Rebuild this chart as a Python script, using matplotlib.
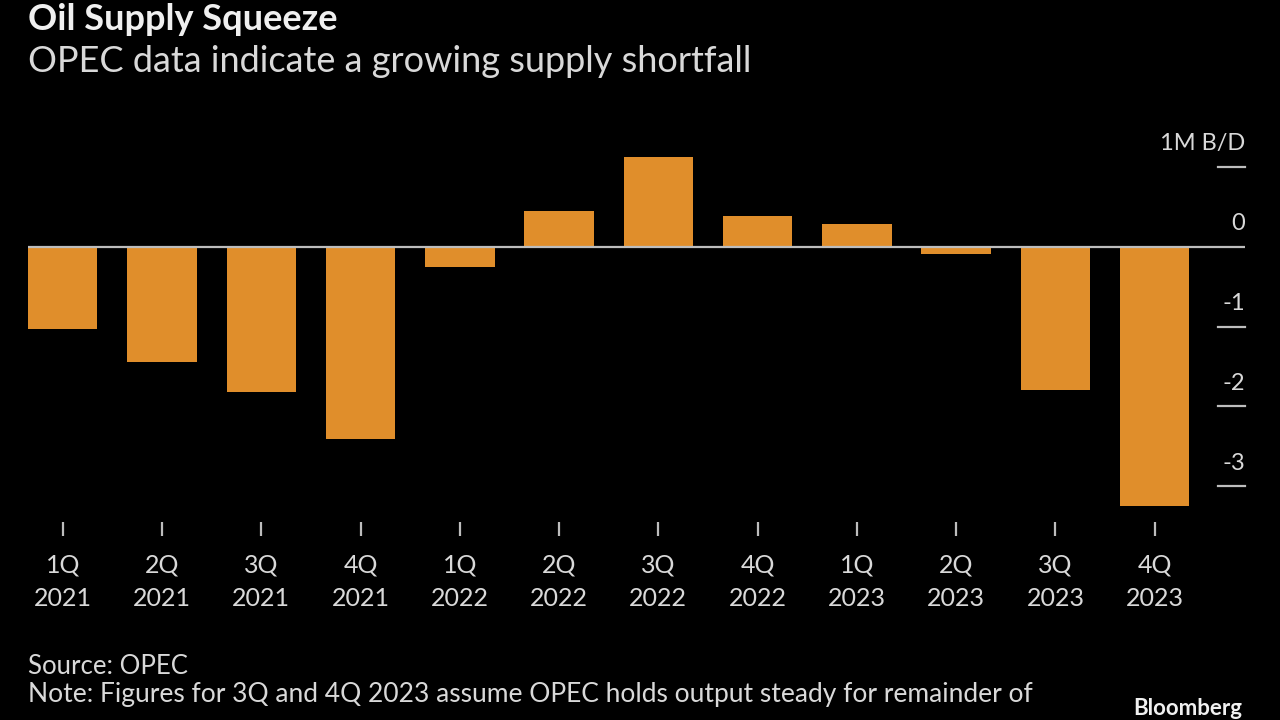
#!/usr/bin/env python3
"""Oil supply squeeze: OPEC quarterly supply balance bar chart."""

import matplotlib
matplotlib.use("Agg")
import matplotlib.pyplot as plt
import matplotlib.transforms as mtransforms

quarters = ["1Q", "2Q", "3Q", "4Q", "1Q", "2Q", "3Q", "4Q", "1Q", "2Q", "3Q", "4Q"]
years = ["2021"] * 4 + ["2022"] * 4 + ["2023"] * 4
balance = [-1.03, -1.44, -1.82, -2.41, -0.26, 0.45, 1.12, 0.38, 0.28, -0.09, -1.79, -3.25]
y_ticks = [1, 0, -1, -2, -3]
y_labels = ["1M B/D", "0", "-1", "-2", "-3"]

BG = "#000000"
BAR = "#E08E2B"
TEXT = "#D9D9D9"
GRID = "#BDBDBD"

plt.rcParams["font.family"] = ["Lato", "DejaVu Sans"]

fig = plt.figure(figsize=(12.8, 7.2), dpi=100, facecolor=BG)
ax = fig.add_axes([28 / 1280, 1 - 522 / 720, (1245 - 28) / 1280, (522 - 143) / 720])
ax.set_facecolor(BG)

x = list(range(len(balance)))
ax.bar(x, balance, width=0.70, color=BAR, zorder=2)
ax.set_xlim(-0.35, 11.91)
ax.set_ylim(-3.45, 1.3)

for s in ax.spines.values():
    s.set_visible(False)

# zero line across the plot, short tick marks on the right for the others
ax.axhline(0, color=GRID, lw=1.6, zorder=3)
trans = mtransforms.blended_transform_factory(ax.transAxes, ax.transData)
for v, lab in zip(y_ticks, y_labels):
    if v != 0:
        ax.plot([0.978, 1.0], [v, v], color=GRID, lw=1.6, transform=trans, clip_on=False)
    ax.annotate(lab, xy=(1.0, v), xycoords=trans, xytext=(0, 9), textcoords="offset points",
                ha="right", va="bottom", color=TEXT, fontsize=17)

ax.set_yticks([])
ax.set_xticks(x)
ax.set_xticklabels([f"{q}\n{y}" for q, y in zip(quarters, years)], color=TEXT,
                   fontsize=18, linespacing=1.55)
ax.tick_params(axis="x", direction="out", length=10, width=1.6, color=GRID, pad=13)

fig.text(28 / 1280, 1 - 3 / 720, "Oil Supply Squeeze", color="#F0F0F0", fontsize=26,
         fontweight="bold", ha="left", va="top")
fig.text(28 / 1280, 1 - 45 / 720, "OPEC data indicate a growing supply shortfall", color=TEXT,
         fontsize=26, ha="left", va="top")

fig.text(28 / 1280, 1 - 654 / 720, "Source: OPEC", color=TEXT, fontsize=18.5, ha="left", va="top")
fig.text(28 / 1280, 1 - 682 / 720,
         "Note: Figures for 3Q and 4Q 2023 assume OPEC holds output steady for remainder of",
         color=TEXT, fontsize=19, ha="left", va="top")
fig.text(1242 / 1280, 1 - 698 / 720, "Bloomberg", color="#F0F0F0", fontsize=16,
         fontweight="bold", ha="right", va="top")

fig.savefig("out.png", dpi=100, facecolor=BG)
